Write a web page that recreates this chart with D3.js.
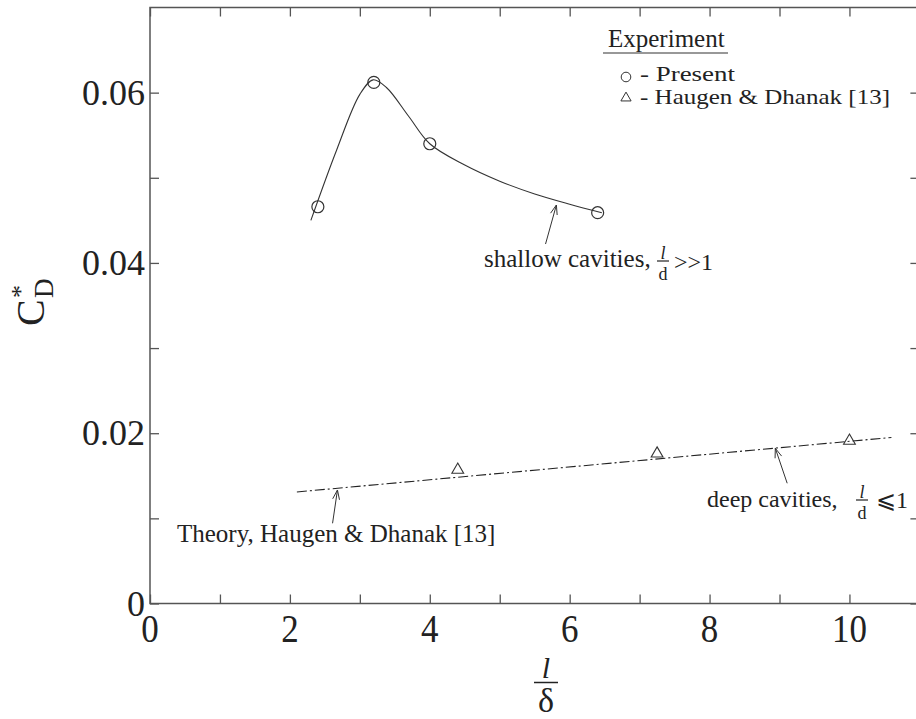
<!DOCTYPE html>
<html><head><meta charset="utf-8">
<script src="https://cdn.jsdelivr.net/npm/d3@7"></script>
<style>body{margin:0;background:#fff}svg{display:block}text{font-family:"Liberation Serif","Times New Roman",serif;fill:#222}</style>
</head><body><svg id="c" width="916" height="719"></svg>
<script>
// ---- data ----
const presentX = [2.4, 3.2, 4.0, 6.4];
const presentY = [0.0466, 0.0612, 0.0540, 0.0459];
const haugenX = [4.4, 7.25, 10.0];
const haugenY = [0.0157, 0.0176, 0.0191];
const fitX = [2.30, 2.67, 3.0, 3.19, 3.38, 3.7, 4.0, 4.5, 5.0, 5.5, 6.0, 6.46];
const fitY = [0.0450, 0.0533, 0.0598, 0.0615, 0.0606, 0.0572, 0.0540, 0.0515, 0.0496, 0.0481, 0.0469, 0.0459];
const theoryX = [2.1, 10.6];
const theoryY = [0.0131, 0.0195];
const xTickValues = [0,1,2,3,4,5,6,7,8,9,10];
const xTickLabels = [0,2,4,6,8,10];
const yTickValues = [0,0.01,0.02,0.03,0.04,0.05,0.06];
const yTickLabels = [0,0.02,0.04,0.06];

const svg = d3.select("#c");
const x = d3.scaleLinear().domain([0, 11]).range([150, 919.4]);
const y = d3.scaleLinear().domain([0, 0.07]).range([603.5, 7.5]);
const axisColor = "#555";

// frame
svg.append("rect").attr("x", x(0)).attr("y", y(0.07)).attr("width", x(11)-x(0)).attr("height", y(0)-y(0.07))
  .attr("fill","none").attr("stroke",axisColor).attr("stroke-width",1.5);

function styleAxis(g){
  g.select(".domain").remove();
  g.selectAll(".tick line").attr("stroke",axisColor).attr("stroke-width",1.3);
  g.selectAll("text").remove();
}
const tl = 9;
svg.append("g").attr("transform",`translate(0,${y(0)})`).call(d3.axisBottom(x).tickValues(xTickValues).tickSize(-tl)).call(styleAxis);
svg.append("g").attr("transform",`translate(0,${y(0.07)})`).call(d3.axisTop(x).tickValues(xTickValues).tickSize(-tl)).call(styleAxis);
svg.append("g").attr("transform",`translate(${x(0)},0)`).call(d3.axisLeft(y).tickValues(yTickValues).tickSize(-tl)).call(styleAxis);
svg.append("g").attr("transform",`translate(${x(11)},0)`).call(d3.axisRight(y).tickValues(yTickValues).tickSize(-tl)).call(styleAxis);

// tick labels
svg.append("g").selectAll("text").data(xTickLabels).join("text")
  .attr("transform", d=>`translate(${x(d)},642) scale(1,1.12)`).attr("text-anchor","middle").attr("font-size",35)
  .text(d=>d);
svg.append("g").selectAll("text").data(yTickLabels).join("text")
  .attr("x", 145).attr("y", d=>y(d)+12).attr("text-anchor","end").attr("font-size",36)
  .text(d=> d===0 ? "0" : d.toFixed(2));

// axis titles
const xt = svg.append("g").attr("transform","translate(546,0)");
xt.append("text").attr("x",0).attr("y",678).attr("text-anchor","middle").attr("font-size",30).attr("font-style","italic").text("l");
xt.append("line").attr("x1",-12).attr("x2",12).attr("y1",682.5).attr("y2",682.5).attr("stroke","#222").attr("stroke-width",1.5);
xt.append("text").attr("x",0).attr("y",712).attr("text-anchor","middle").attr("font-size",34).text("δ");

const yt = svg.append("g").attr("transform","translate(44,326) rotate(-90)");
yt.append("text").attr("x",0).attr("y",0).attr("font-size",40).text("C");
yt.append("text").attr("x",28).attr("y",-15).attr("font-size",26).text("*");
yt.append("text").attr("x",28).attr("y",9).attr("font-size",27).text("D");

// fit curve
const fitPts = fitX.map((v,i)=>[v, fitY[i]]);
svg.append("path").datum(fitPts)
  .attr("d", d3.line().x(d=>x(d[0])).y(d=>y(d[1])).curve(d3.curveCatmullRom.alpha(0.5)))
  .attr("fill","none").attr("stroke","#333").attr("stroke-width",1.1);

// theory line
const thPts = theoryX.map((v,i)=>[v, theoryY[i]]);
svg.append("path").datum(thPts)
  .attr("d", d3.line().x(d=>x(d[0])).y(d=>y(d[1])))
  .attr("fill","none").attr("stroke","#222").attr("stroke-width",1.1).attr("stroke-dasharray","10,3,2,3");

// markers
svg.append("g").selectAll("circle").data(presentX.map((v,i)=>[v,presentY[i]])).join("circle")
  .attr("cx",d=>x(d[0])).attr("cy",d=>y(d[1])).attr("r",6)
  .attr("fill","none").attr("stroke","#333").attr("stroke-width",1.2);
const tri = d3.symbol().type(d3.symbolTriangle).size(60);
svg.append("g").selectAll("path").data(haugenX.map((v,i)=>[v,haugenY[i]])).join("path")
  .attr("transform",d=>`translate(${x(d[0])},${y(d[1])})`).attr("d",tri())
  .attr("fill","none").attr("stroke","#333").attr("stroke-width",1.1);

// arrows (data coords)
const arrows = [
  {from:[5.655,0.04222], to:[5.81,0.0468]},
  {from:[2.61,0.00942], to:[2.68,0.01333]},
  {from:[9.11,0.01412], to:[8.94,0.01823]}
];
arrows.forEach(a=>{
  const x1=x(a.from[0]), y1=y(a.from[1]), x2=x(a.to[0]), y2=y(a.to[1]);
  svg.append("line").attr("x1",x1).attr("y1",y1).attr("x2",x2).attr("y2",y2).attr("stroke","#333").attr("stroke-width",1);
  const ang = Math.atan2(y1-y2, x1-x2), L=10, s=0.35;
  [ang+s, ang-s].forEach(t=>{
    svg.append("line").attr("x1",x2).attr("y1",y2).attr("x2",x2+L*Math.cos(t)).attr("y2",y2+L*Math.sin(t)).attr("stroke","#333").attr("stroke-width",1);
  });
});

// annotation texts
function frac(g, cx, barY, top, bot, fs){
  g.append("text").attr("x",cx).attr("y",barY-2).attr("text-anchor","middle").attr("font-size",fs).attr("font-style","italic").text(top);
  g.append("line").attr("x1",cx-6).attr("x2",cx+6).attr("y1",barY).attr("y2",barY).attr("stroke","#222").attr("stroke-width",1.2);
  g.append("text").attr("x",cx).attr("y",barY+19).attr("text-anchor","middle").attr("font-size",fs).text(bot);
}
const ann = svg.append("g");
ann.append("text").attr("x",484).attr("y",267).attr("font-size",25).text("shallow cavities,");
frac(ann, 663, 261, "l", "d", 18);
ann.append("text").attr("x",674).attr("y",270).attr("font-size",24).text(">>1");

ann.append("text").attr("x",177).attr("y",542).attr("font-size",25).text("Theory, Haugen & Dhanak [13]");

ann.append("text").attr("x",707).attr("y",507).attr("font-size",24).text("deep cavities,");
frac(ann, 862, 500, "l", "d", 18);
ann.append("text").attr("x",876).attr("y",508).attr("font-size",24).text("⩽1");

// legend
const lg = svg.append("g");
lg.append("text").attr("x",608).attr("y",47).attr("font-size",25).text("Experiment");
lg.append("line").attr("x1",603).attr("x2",728).attr("y1",53).attr("y2",53).attr("stroke","#333").attr("stroke-width",1.2);
lg.append("circle").attr("cx",626).attr("cy",77).attr("r",4.8).attr("fill","none").attr("stroke","#333").attr("stroke-width",1);
lg.append("text").attr("x",640).attr("y",81).attr("font-size",21).attr("textLength",95).attr("lengthAdjust","spacingAndGlyphs").text("- Present");
lg.append("path").attr("transform","translate(626,98)").attr("d",d3.symbol().type(d3.symbolTriangle).size(45)()).attr("fill","none").attr("stroke","#333").attr("stroke-width",1);
lg.append("text").attr("x",640).attr("y",104).attr("font-size",21).attr("textLength",250).attr("lengthAdjust","spacingAndGlyphs").text("- Haugen & Dhanak [13]");
</script></body></html>
